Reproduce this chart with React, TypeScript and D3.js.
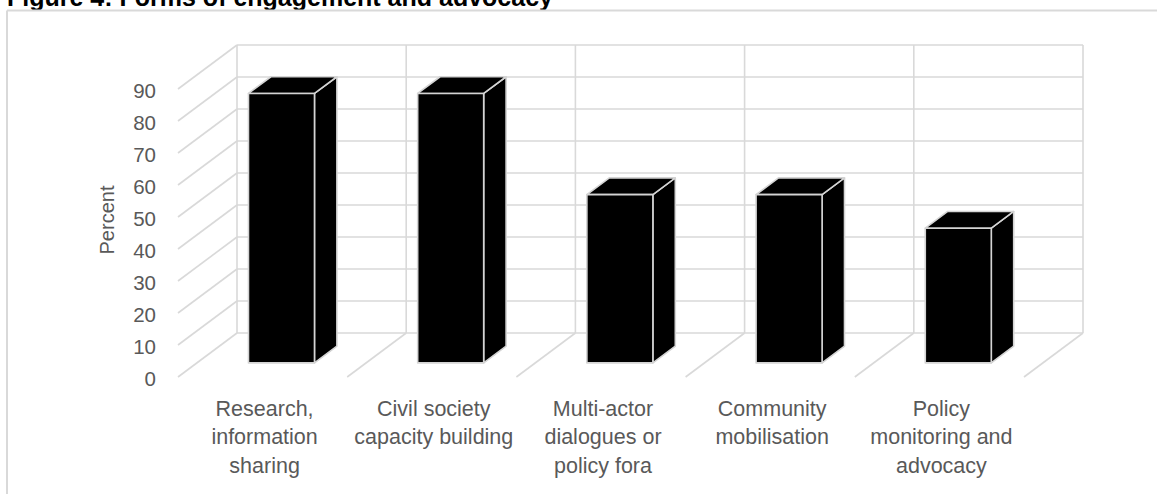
import React from "react";
import * as d3 from "d3";

const title = "Figure 4: Forms of engagement and advocacy";
const categories = [
  ["Research,", "information", "sharing"],
  ["Civil society", "capacity building"],
  ["Multi-actor", "dialogues or", "policy fora"],
  ["Community", "mobilisation"],
  ["Policy", "monitoring and", "advocacy"],
];
const values = [84.2, 84.2, 52.6, 52.6, 42.1];
const yTicks = [0, 10, 20, 30, 40, 50, 60, 70, 80, 90];
const yLabel = "Percent";

const W = 1157;
const H = 494;
const GRID = "#d9d9d9";
const TEXT = "#595959";
const FONT = "'Liberation Sans', Arial, sans-serif";

// back wall geometry
const y = d3.scaleLinear().domain([0, 90]).range([333, 45]);
const keys = categories.map((_, i) => String(i));
const x = d3.scaleBand().domain(keys).range([237, 1083]);
// depth vector: from back wall to front edge
const DX = -59;
const DY = 44;
// bar depth range (fraction toward the front)
const FRONT = 0.68;
const BACK = 0.3;
const BAR_W = 66;

function pt(xb: number, v: number, f: number): [number, number] {
  return [xb + DX * f, y(v) + DY * f];
}
function poly(ps: [number, number][]) {
  return ps.map((p) => p.join(",")).join(" ");
}

export default function App() {
  const boundaries = keys.map((k) => x(k)!).concat([x.range()[1]]);
  return (
    <svg
      width={W}
      height={H}
      style={{ position: "absolute", left: 0, top: 0, background: "#fff" }}
    >
      {/* title (cut at the top, as in the source) */}
      <text
        x={7}
        y={6}
        fontFamily={FONT}
        fontWeight="bold"
        fontSize={25}
        fill="#000"
        textLength={546}
        lengthAdjust="spacingAndGlyphs"
      >
        {title}
      </text>
      {/* chart frame */}
      <line x1={7} x2={W} y1={10.5} y2={10.5} stroke={GRID} strokeWidth={2} />
      <line x1={7} x2={7} y1={10.5} y2={H} stroke={GRID} strokeWidth={2} />

      {/* back wall horizontal gridlines */}
      {yTicks.map((t) => (
        <line
          key={"h" + t}
          x1={x.range()[0]}
          x2={x.range()[1]}
          y1={y(t)}
          y2={y(t)}
          stroke={GRID}
          strokeWidth={1.6}
        />
      ))}
      {/* back wall vertical lines */}
      {boundaries.map((b, i) => (
        <line
          key={"v" + i}
          x1={b}
          x2={b}
          y1={y(90)}
          y2={y(0)}
          stroke={GRID}
          strokeWidth={1.6}
        />
      ))}
      {/* side wall diagonals */}
      {yTicks.map((t) => {
        const a = pt(x.range()[0], t, 0);
        const b = pt(x.range()[0], t, 1);
        return (
          <line
            key={"s" + t}
            x1={a[0]}
            y1={a[1]}
            x2={b[0]}
            y2={b[1]}
            stroke={GRID}
            strokeWidth={1.6}
          />
        );
      })}
      {/* floor diagonals */}
      {boundaries.slice(1).map((bx, i) => {
        const a = pt(bx, 0, 0);
        const b = pt(bx, 0, 1);
        return (
          <line
            key={"f" + i}
            x1={a[0]}
            y1={a[1]}
            x2={b[0]}
            y2={b[1]}
            stroke={GRID}
            strokeWidth={1.6}
          />
        );
      })}

      {/* bars */}
      {values.map((v, i) => {
        const c = x(keys[i])! + x.bandwidth() / 2;
        const l = c - BAR_W / 2;
        const r = c + BAR_W / 2;
        const fTL = pt(l, v, FRONT);
        const fTR = pt(r, v, FRONT);
        const fBR = pt(r, 0, FRONT);
        const fBL = pt(l, 0, FRONT);
        const bTL = pt(l, v, BACK);
        const bTR = pt(r, v, BACK);
        const bBR = pt(r, 0, BACK);
        const common = {
          fill: "#000",
          stroke: "#d4d4d4",
          strokeWidth: 1.6,
          strokeLinejoin: "round" as const,
        };
        return (
          <g key={"bar" + i}>
            <polygon points={poly([fTR, bTR, bBR, fBR])} {...common} />
            <polygon points={poly([fTL, bTL, bTR, fTR])} {...common} />
            <polygon points={poly([fTL, fTR, fBR, fBL])} {...common} />
          </g>
        );
      })}

      {/* y tick labels (on the front edge of the side wall) */}
      {yTicks.map((t) => (
        <text
          key={"yl" + t}
          x={156}
          y={pt(x.range()[0], t, 1)[1] + 8.5}
          textAnchor="end"
          fontFamily={FONT}
          fontSize={20.5}
          fill={TEXT}
        >
          {t}
        </text>
      ))}
      {/* y axis title */}
      <text
        transform="translate(114,220) rotate(-90)"
        textAnchor="middle"
        fontFamily={FONT}
        fontSize={20}
        fill={TEXT}
      >
        {yLabel}
      </text>

      {/* category labels */}
      {categories.map((lines, i) => {
        const cx = x(keys[i])! + x.bandwidth() / 2 + DX + 2;
        return (
          <text
            key={"c" + i}
            textAnchor="middle"
            fontFamily={FONT}
            fontSize={21.5}
            fill={TEXT}
          >
            {lines.map((ln, j) => (
              <tspan key={j} x={cx} y={416 + j * 28.3}>
                {ln}
              </tspan>
            ))}
          </text>
        );
      })}
    </svg>
  );
}
